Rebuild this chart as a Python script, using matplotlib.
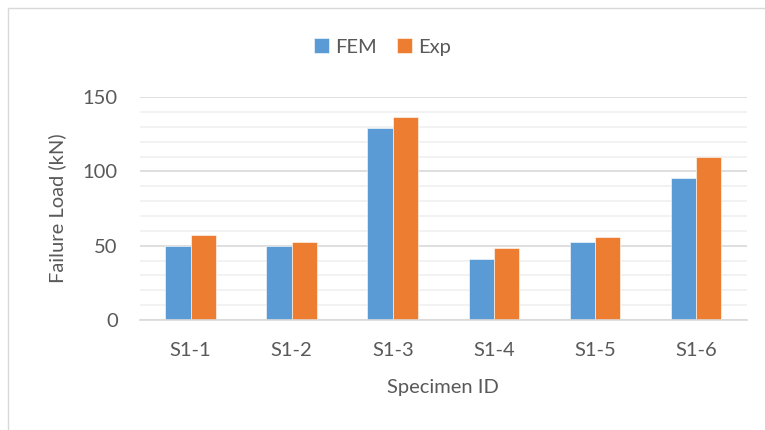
import numpy as np
import matplotlib.pyplot as plt
from matplotlib.patches import Rectangle

plt.rcParams['font.family'] = ['Lato', 'DejaVu Sans']

# failure loads per specimen
specimens = ['S1-1', 'S1-2', 'S1-3', 'S1-4', 'S1-5', 'S1-6']
fem_load = [50, 49.5, 129.5, 41, 52.5, 95.5]
exp_load = [57, 52.5, 136.5, 48.7, 55.6, 109.5]

text_col = '#595959'
fs = 14.5

fig = plt.figure(figsize=(7.65, 4.3), dpi=100)
ax = fig.add_axes([0.183, 0.256, 0.793, 0.518])

x = np.arange(len(specimens))
w = 0.25
ax.bar(x - w / 2, fem_load, w, color='#5B9BD5', label='FEM', zorder=3,
       edgecolor='white', linewidth=0.4)
ax.bar(x + w / 2, exp_load, w, color='#ED7D31', label='Exp', zorder=3,
       edgecolor='white', linewidth=0.4)

ax.set_xlim(-0.5, len(specimens) - 0.5)
ax.set_ylim(0, 150)
ax.set_yticks([0, 50, 100, 150])
ax.set_yticks(np.arange(0, 151, 10), minor=True)
ax.grid(axis='y', which='major', color='#d9d9d9', linewidth=1.2, zorder=0)
ax.grid(axis='y', which='minor', color='#f0f0f0', linewidth=1.2, zorder=0)
ax.set_xticks(x)
ax.set_xticklabels(specimens)
ax.tick_params(axis='both', which='both', length=0, colors=text_col,
               labelsize=fs)
ax.tick_params(axis='x', pad=16)
ax.tick_params(axis='y', pad=16)

for s in ['top', 'right', 'left']:
    ax.spines[s].set_visible(False)
ax.spines['bottom'].set_color('#d9d9d9')
ax.spines['bottom'].set_linewidth(1.2)
ax.spines['bottom'].set_zorder(4)

ax.set_xlabel('Specimen ID', fontsize=fs, color=text_col, labelpad=14)
ax.set_ylabel('Failure Load (kN)', fontsize=fs, color=text_col, labelpad=12)

ax.legend(loc='upper center', bbox_to_anchor=(0.5, 1.0), bbox_transform=fig.transFigure,
          ncol=2, frameon=False, fontsize=fs, labelcolor=text_col,
          handlelength=0.75, handleheight=0.75, handletextpad=0.3,
          columnspacing=1.0, borderaxespad=1.5)

# chart area border
fig.patches.append(Rectangle((8 / 765, -0.05), 1.1, 1 - 8 / 430 + 0.05,
                             transform=fig.transFigure, fill=False,
                             edgecolor='#d9d9d9', linewidth=1.0))

fig.savefig('out.png', dpi=100)
